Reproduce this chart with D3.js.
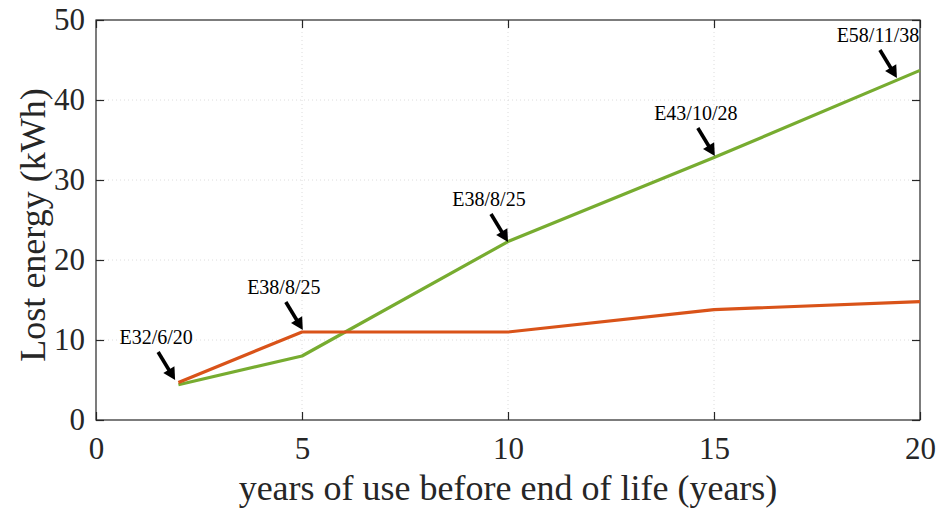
<!DOCTYPE html>
<html>
<head>
<meta charset="utf-8">
<script src="https://cdn.jsdelivr.net/npm/d3@7"></script>
<style>
  body { margin: 0; background: #fff; }
  svg, svg text { font-family: "Liberation Serif", "Times New Roman", serif; }
</style>
</head>
<body>
<div id="chart"></div>
<script>
// data
const years = [2, 5, 10, 15, 20];
const lossOrange = [4.7, 11, 11, 13.8, 14.8];
const lossGreen = [4.4, 8, 22.3, 32.8, 43.7];
const xTicks = [0, 5, 10, 15, 20];
const yTicks = [0, 10, 20, 30, 40, 50];
const annoLabels = ["E32/6/20", "E38/8/25", "E38/8/25", "E43/10/28", "E58/11/38"];
const annoX = [1.92, 5.02, 10.0, 15.02, 19.44];
const annoY = [5.0, 11.25, 22.25, 33.0, 42.75];

const color = { orange: '#d95319', green: '#77ac30', axis: '#262626', grid: '#dcdcdc' };
const serif = '"Liberation Serif", "Times New Roman", serif';

const width = 942, height = 509;
const margin = { top: 20, left: 96, right: 22, bottom: 89 };
const w = width - margin.left - margin.right;
const h = height - margin.top - margin.bottom;

const svg = d3.select('#chart').append('svg')
  .attr('width', width).attr('height', height);

const g = svg.append('g').attr('transform', `translate(${margin.left},${margin.top})`);

const x = d3.scaleLinear().domain([0, 20]).range([0, w]);
const y = d3.scaleLinear().domain([0, 50]).range([h, 0]);

// grid
g.append('g').selectAll('line').data(xTicks.slice(1, -1)).join('line')
  .attr('x1', d => x(d)).attr('x2', d => x(d)).attr('y1', 0).attr('y2', h)
  .attr('stroke', color.grid).attr('stroke-dasharray', '1,3');
g.append('g').selectAll('line').data(yTicks.slice(1, -1)).join('line')
  .attr('y1', d => y(d)).attr('y2', d => y(d)).attr('x1', 0).attr('x2', w)
  .attr('stroke', color.grid).attr('stroke-dasharray', '1,3');

// axes, ticks inward on all sides
function styleAxis(sel) {
  sel.attr('font-family', serif);
  sel.select('.domain').remove();
  sel.selectAll('.tick line').attr('stroke', color.axis).attr('stroke-width', 1.2);
  sel.selectAll('.tick text').attr('fill', color.axis).style('font-size', '31px')
    .style('font-family', serif);
}
g.append('g').attr('transform', `translate(0,${h})`)
  .call(d3.axisBottom(x).tickValues(xTicks).tickSizeInner(-8).tickSizeOuter(0).tickPadding(17))
  .call(styleAxis);
g.append('g')
  .call(d3.axisLeft(y).tickValues(yTicks).tickSizeInner(-8).tickSizeOuter(0).tickPadding(11))
  .call(styleAxis);
g.append('g')
  .call(d3.axisTop(x).tickValues(xTicks).tickSizeInner(-8).tickSizeOuter(0).tickFormat(''))
  .call(styleAxis);
g.append('g').attr('transform', `translate(${w},0)`)
  .call(d3.axisRight(y).tickValues(yTicks).tickSizeInner(-8).tickSizeOuter(0).tickFormat(''))
  .call(styleAxis);

g.append('rect').attr('width', w).attr('height', h)
  .attr('fill', 'none').attr('stroke', color.axis).attr('stroke-width', 1.2);

// lines
const line = d3.line().x(d => x(d[0])).y(d => y(d[1]));
[[lossGreen, color.green], [lossOrange, color.orange]].forEach(([vals, c]) => {
  g.append('path')
    .datum(years.map((yr, i) => [yr, vals[i]]))
    .attr('d', line)
    .attr('fill', 'none')
    .attr('stroke', c)
    .attr('stroke-width', 3.2)
    .attr('stroke-linejoin', 'round');
});

// annotations: black arrows pointing at the curve, label above the tail
const ann = g.append('g');
annoLabels.forEach((label, i) => {
  const tx = x(annoX[i]), ty = y(annoY[i]);
  const dx = -17, dy = -28;
  const len = Math.hypot(dx, dy);
  const ux = -dx / len, uy = -dy / len;   // direction tail -> tip
  const sx = tx + dx, sy = ty + dy;
  const headLen = 12, headW = 6.5;
  const bx = tx - ux * headLen, by = ty - uy * headLen;
  ann.append('line')
    .attr('x1', sx).attr('y1', sy).attr('x2', bx + ux * 2).attr('y2', by + uy * 2)
    .attr('stroke', '#000').attr('stroke-width', 3.6);
  ann.append('path')
    .attr('d', `M${tx},${ty} L${bx - uy * headW},${by + ux * headW} L${bx + uy * headW},${by - ux * headW} Z`)
    .attr('fill', '#000');
  ann.append('text')
    .attr('x', sx - 2).attr('y', sy - 8)
    .attr('text-anchor', 'middle')
    .style('font-size', '20px')
    .style('font-family', serif)
    .attr('fill', '#000')
    .text(label);
});

// axis labels
svg.append('text')
  .attr('x', margin.left + w / 2).attr('y', 500)
  .attr('text-anchor', 'middle')
  .style('font-size', '36px').style('font-family', serif).attr('fill', color.axis)
  .text('years of use before end of life (years)');
svg.append('text')
  .attr('transform', `translate(45,${margin.top + h / 2 + 5}) rotate(-90)`)
  .attr('text-anchor', 'middle')
  .style('font-size', '36px').style('font-family', serif).attr('fill', color.axis)
  .text('Lost energy (kWh)');
</script>
</body>
</html>
